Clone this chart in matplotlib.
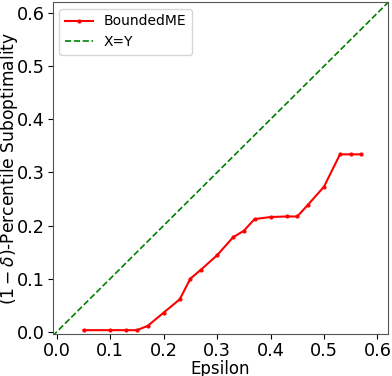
import numpy as np
import matplotlib
matplotlib.use('Agg')
import matplotlib.pyplot as plt

epsilon = [0.05, 0.10, 0.13, 0.15, 0.17, 0.20, 0.23, 0.25, 0.27, 0.30, 0.33,
           0.35, 0.37, 0.40, 0.43, 0.45, 0.47, 0.50, 0.53, 0.55, 0.57]
subopt = [0.003, 0.003, 0.003, 0.003, 0.011, 0.036, 0.061, 0.100, 0.117, 0.144,
          0.178, 0.190, 0.212, 0.216, 0.217, 0.217, 0.239, 0.273, 0.334, 0.334, 0.334]

lo, hi = -0.008, 0.62

fig = plt.figure(figsize=(3.92, 3.76), dpi=100)
ax = fig.add_axes([0.134, 0.112, 0.856, 0.883])

ax.plot(epsilon, subopt, color='red', marker='.', markersize=4, linewidth=1.5,
        label='BoundedME')
ax.plot([lo, hi], [lo, hi], color='green', linestyle='--', linewidth=1.2, label='X=Y')

ax.set_xlim(lo, hi)
ax.set_ylim(-0.004, 0.621)
ax.set_xticks([0.0, 0.1, 0.2, 0.3, 0.4, 0.5, 0.6])
ax.set_yticks([0.0, 0.1, 0.2, 0.3, 0.4, 0.5, 0.6])
ax.tick_params(labelsize=12.7, pad=2)
for s in ax.spines.values():
    s.set_color('#555555')

ax.set_xlabel('Epsilon', fontsize=12, labelpad=0)
ax.set_ylabel(r'$(1-\delta)$-Percentile Suboptimality', fontsize=12.3)
ax.yaxis.set_label_coords(-0.098, 0.5)
ax.legend(loc='upper left', fontsize=10)

fig.savefig('out.png', dpi=100)
